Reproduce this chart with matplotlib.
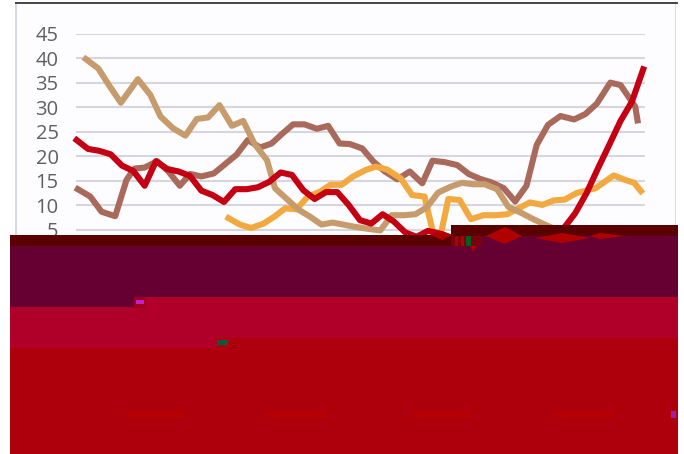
import numpy as np
import matplotlib
matplotlib.use('Agg')
import matplotlib.pyplot as plt
from matplotlib.patches import Rectangle, Polygon

# values, x is the period index
red_vals = [23.3, 21.5, 21.1, 20.4, 18.1, 17, 14, 19, 17.4, 16.9, 16, 13, 12.1,
            10.7, 13.3, 13.3, 13.7, 14.8, 16.7, 16.2, 13.1, 11.3, 12.7, 12.7,
            10.1, 7, 6.3, 8.2, 6.7, 4.5, 3.6, 4.8, 4.3, 3.5, 3, 2.5, 2.5, 2,
            2.5, 2, 2, 2.5, 3, 5.4, 8.4, 12.5, 17.5, 22.3, 27.2, 31.1, 37.7]

tan_x = [0.8, 1.9, 2.9, 3.9, 5.4, 6.5, 7.4, 8.5, 9.6, 10.6, 11.6, 12.6, 13.7,
         14.7, 15.7, 16.8, 17.5, 18.5, 19.6, 20.6, 21.6, 22.6, 24.4, 25.5, 26.8,
         27.8, 28.9, 29.9, 30.9, 31.9, 33, 34, 35, 36, 37.1, 38.1, 39.3, 40.3,
         41.4, 42.4, 43.4]
tan_vals = [39.8, 37.9, 34.3, 30.9, 35.7, 32.5, 28.1, 25.7, 24.2, 27.6, 27.9,
            30.4, 26.2, 27.2, 22.5, 19.2, 13.5, 11.4, 9.1, 7.7, 6.1, 6.5, 5.7,
            5.3, 4.9, 8, 8, 8.2, 9.6, 12.6, 13.8, 14.6, 14.3, 14.3, 13.3, 9.7,
            8.4, 7.2, 6, 5, 4]

brown_x = [0.1, 1.2, 2.2, 3.4, 4.4, 5.1, 6, 7.1, 8.1, 9.1, 10, 11, 12.1, 13.1,
           14.1, 15.1, 16.2, 17.2, 18.2, 19.1, 20.1, 21.2, 22.2, 23.2, 24.1,
           25.2, 26.2, 27.2, 28.3, 29.4, 30.5, 31.4, 32.5, 33.6, 34.6, 35.6,
           36.6, 37.7, 38.7, 39.7, 40.6, 41.6, 42.7, 43.9, 44.9, 45.9, 47.1, 48,
           49.3, 49.5]
brown_vals = [13.3, 11.8, 8.7, 7.8, 15.2, 17.5, 17.7, 19, 16.9, 14, 16.4, 15.9,
              16.5, 18.4, 20.3, 23.3, 21.8, 22.6, 24.7, 26.5, 26.5, 25.6, 26.2,
              22.6, 22.5, 21.6, 18.9, 16.9, 15.3, 16.9, 14.5, 19.1, 18.8, 18.2,
              16.4, 15.4, 14.7, 13.5, 10.8, 14, 22.3, 26.4, 28.2, 27.5, 28.6,
              30.7, 35, 34.5, 30.1, 27.3]

orange_x = [13.4, 14.4, 15.4, 16.5, 17.5, 18.4, 19.4, 20.4, 21.5, 22.4, 23.4,
            24.4, 25.5, 26.4, 27.4, 28.6, 29.6, 30.7, 31.4, 32, 32.8, 33.8,
            34.8, 35.9, 37, 38, 39, 40, 41.1, 42.1, 43.1, 44.1, 45.8, 47.4,
            48.4, 49.2, 49.8]
orange_vals = [7.4, 6.1, 5.4, 6.3, 7.8, 9.4, 9.2, 11.8, 12.8, 14.2, 14.2, 15.9,
               17.2, 17.9, 17.3, 15.5, 12.1, 11.8, 5, 2.6, 11.3, 11.1, 7.2, 8,
               8, 8.2, 9.4, 10.6, 10.1, 11, 11.2, 12.5, 13.5, 16.1, 15.2, 14.6,
               12.9]

yticks = [5, 10, 15, 20, 25, 30, 35, 40, 45]

W, H = 684, 454
fig = plt.figure(figsize=(W / 100, H / 100), dpi=100, facecolor='white')


def px(x, y, w, h, color):
    # damaged part of the picture, pixels from top left
    return Rectangle((x, H - y - h), w, h, facecolor=color, edgecolor='none',
                     transform=None, zorder=10)


fig.add_artist(Rectangle((15, H - 454), 661, 451, transform=None,
                         facecolor='#fdfdff', edgecolor='none', zorder=-2))
fig.add_artist(Rectangle((15, 0), 1.5, H - 4, transform=None,
                         facecolor='#d5d8e6', edgecolor='none', zorder=-1))
fig.add_artist(Rectangle((674.5, 0), 1.5, H - 4, transform=None,
                         facecolor='#d9dbe6', edgecolor='none', zorder=-1))
fig.add_artist(Rectangle((15, H - 4), 663, 2, transform=None,
                         facecolor='#4a4a4a', edgecolor='none', zorder=-1))

ax = fig.add_axes([76 / W, (H - 254.5) / H, (645 - 76) / W, 221 / H])
ax.set_facecolor('none')
ax.set_xlim(-0.06, 50.16)
ax.set_ylim(0, 45)
for s in ax.spines.values():
    s.set_visible(False)
ax.set_xticks([])
ax.set_yticks(yticks)
ax.tick_params(axis='y', length=0, pad=12.5, labelsize=14.5, labelcolor='#5f5f64')
for t in ax.get_yticklabels():
    t.set_fontfamily('Open Sans')
ax.grid(axis='y', color='#d6d6e0', lw=1.5)
ax.set_axisbelow(True)

lw = 4.4
ax.plot(brown_x, brown_vals, color='#a96a5b', lw=lw, solid_joinstyle='round', clip_on=False)
ax.plot(orange_x, orange_vals, color='#f2a93f', lw=lw, solid_joinstyle='round', clip_on=False)
ax.plot(tan_x, tan_vals, color='#c69c6d', lw=lw, solid_joinstyle='round', clip_on=False)
ax.plot(range(len(red_vals)), red_vals, color='#c40012', lw=lw, solid_joinstyle='round', clip_on=False)

# corrupted lower part of the image
blocks = [
    (10, 338, 668, 116, '#ad000c'),
    (10, 297, 668, 41, '#b0002a'),
    (10, 338, 206, 10, '#b0002a'),
    (10, 246, 668, 51, '#660033'),
    (10, 297, 124, 10, '#660033'),
    (10, 235, 441, 11, '#5a0000'),
    (451, 225, 227, 11, '#5a0000'),
    (482, 236, 196, 10, '#660033'),
    (451, 236, 31, 10, '#7a0010'),
    (455, 236, 3, 10, '#b00000'),
    (461, 236, 3, 10, '#b00000'),
    (466, 236, 5, 10, '#006020'),
    (134, 297, 12, 11, '#a00020'),
    (136, 300, 8, 4, '#c020d0'),
    (217, 340, 11, 5, '#0a5a40'),
    (125, 411, 60, 7, '#b40004'),
    (266, 411, 62, 7, '#b40004'),
    (411, 411, 61, 7, '#b40004'),
    (553, 411, 62, 7, '#b40004'),
    (671, 411, 5, 7, '#a020a0'),
]
for b in blocks:
    fig.add_artist(px(*b))

blobs = [
    [(486, 236), (505, 227), (522, 236), (505, 244)],
    [(535, 238), (562, 233), (590, 238), (562, 243)],
    [(590, 236), (600, 233), (625, 236), (600, 239)],
    [(430, 235), (442, 231), (452, 235), (442, 240)],
    [(470, 246), (476, 246), (473, 252)],
]
for b in blobs:
    pts = [(x, H - y) for x, y in b]
    fig.add_artist(Polygon(pts, closed=True, transform=None, facecolor='#b00000',
                           edgecolor='none', zorder=11))

fig.savefig('out.png', dpi=100)
